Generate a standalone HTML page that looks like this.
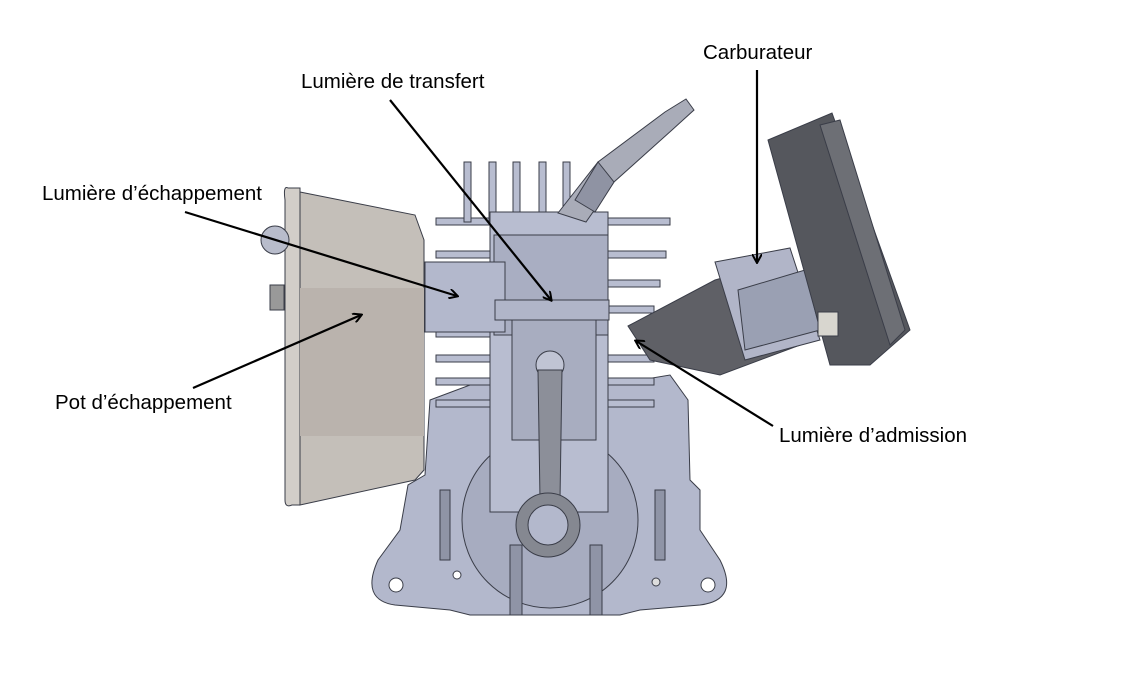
<!DOCTYPE html>
<html><head><meta charset="utf-8"><style>
html,body{margin:0;padding:0;background:#fff;}
svg{display:block}
text{font-family:"Liberation Sans",sans-serif;font-size:20.5px;fill:#000}
</style></head><body>
<svg width="1143" height="700" viewBox="0 0 1143 700" xmlns="http://www.w3.org/2000/svg">
<defs><marker id="a" markerWidth="10" markerHeight="10" refX="8" refY="5" orient="auto" markerUnits="userSpaceOnUse"><path d="M0,0 L9,5 L0,10" fill="none" stroke="#000" stroke-width="2"/></marker></defs>
<g stroke="#3a3d48" stroke-width="1">
<path d="M430,400 L470,385 L610,385 L670,375 L688,400 L690,480 L700,490 L700,530 L720,560 Q740,600 700,605 L640,610 L620,615 L470,615 L450,610 L395,605 Q360,600 378,560 L400,530 L408,485 L425,475 Z" fill="#b3b8cc"/>
<circle cx="550" cy="520" r="88" fill="#a7acc0"/>
<circle cx="396" cy="585" r="7" fill="#fff"/><circle cx="708" cy="585" r="7" fill="#fff"/>
<circle cx="457" cy="575" r="4" fill="#fff"/><circle cx="656" cy="582" r="4" fill="#ddd"/>
<rect x="440" y="490" width="10" height="70" fill="#8f94a6"/><rect x="655" y="490" width="10" height="70" fill="#8f94a6"/>
<rect x="510" y="545" width="12" height="70" fill="#8f94a6"/><rect x="590" y="545" width="12" height="70" fill="#8f94a6"/>
<g fill="#b8bdd0">
<rect x="436" y="218" width="60" height="7"/><rect x="436" y="251" width="58" height="7"/><rect x="436" y="280" width="58" height="7"/><rect x="436" y="306" width="58" height="7"/><rect x="436" y="330" width="58" height="7"/><rect x="436" y="355" width="58" height="7"/><rect x="436" y="378" width="58" height="7"/><rect x="436" y="400" width="58" height="7"/>
<rect x="604" y="218" width="66" height="7"/><rect x="604" y="251" width="62" height="7"/><rect x="604" y="280" width="56" height="7"/><rect x="604" y="306" width="50" height="7"/><rect x="604" y="355" width="50" height="7"/><rect x="604" y="378" width="50" height="7"/><rect x="604" y="400" width="50" height="7"/>
<rect x="464" y="162" width="7" height="60"/><rect x="489" y="162" width="7" height="60"/><rect x="513" y="162" width="7" height="60"/><rect x="539" y="162" width="7" height="60"/><rect x="563" y="162" width="7" height="60"/>
</g>
<rect x="490" y="212" width="118" height="300" fill="#b8bdd0"/>
<rect x="494" y="235" width="114" height="100" fill="#a9aec2"/>
<rect x="425" y="262" width="80" height="70" fill="#b3b8cc"/>
<polygon points="558,213 598,162 665,112 686,99 694,110 672,130 614,182 586,222" fill="#a9acb8"/>
<polygon points="575,200 598,162 614,182 595,212" fill="#8f93a3"/>
<rect x="495" y="300" width="114" height="20" fill="#b0b5c8"/>
<rect x="512" y="320" width="84" height="120" fill="#a8adc0"/>
<circle cx="550" cy="365" r="14" fill="#c0c4d4"/>
<polygon points="538,370 562,370 560,500 540,500" fill="#8c8f99"/>
<circle cx="548" cy="525" r="32" fill="#858891"/><circle cx="548" cy="525" r="20" fill="#b3b8cc"/>
<path d="M288,188 Q283,185 285,200 L285,500 Q285,508 292,505 L300,505 L300,188 Z" fill="#d2cec9"/>
<polygon points="300,192 415,215 424,240 424,470 415,480 300,505" fill="#c4bfb9"/>
<rect x="300" y="288" width="124" height="148" fill="#bab3ad" stroke="none"/>
<circle cx="275" cy="240" r="14" fill="#b8bccb"/>
<rect x="270" y="285" width="14" height="25" fill="#999"/>
<polygon points="628,326 715,280 780,262 800,345 720,375 650,360" fill="#5f6066"/>
<polygon points="715,262 790,248 820,340 745,360" fill="#b1b5c8"/>
<polygon points="738,290 805,270 820,330 745,350" fill="#9aa0b3"/>
<polygon points="768,140 832,113 910,330 870,365 830,365" fill="#55575d"/>
<polygon points="820,125 840,120 905,330 890,345" fill="#6d6f75"/>
<rect x="818" y="312" width="20" height="24" fill="#d8d6cf"/>
</g>
<text x="703" y="59">Carburateur</text>
<text x="301" y="88">Lumière de transfert</text>
<text x="42" y="200">Lumière d’échappement</text>
<text x="55" y="409">Pot d’échappement</text>
<text x="779" y="442">Lumière d’admission</text>
<g stroke="#000" stroke-width="2.2" fill="none" marker-end="url(#a)">
<line x1="757" y1="70" x2="757" y2="262"/>
<line x1="390" y1="100" x2="551" y2="300"/>
<line x1="185" y1="212" x2="457" y2="296"/>
<line x1="193" y1="388" x2="361" y2="315"/>
<line x1="773" y1="426" x2="636" y2="341"/>
</g>
</svg>
</body></html>
